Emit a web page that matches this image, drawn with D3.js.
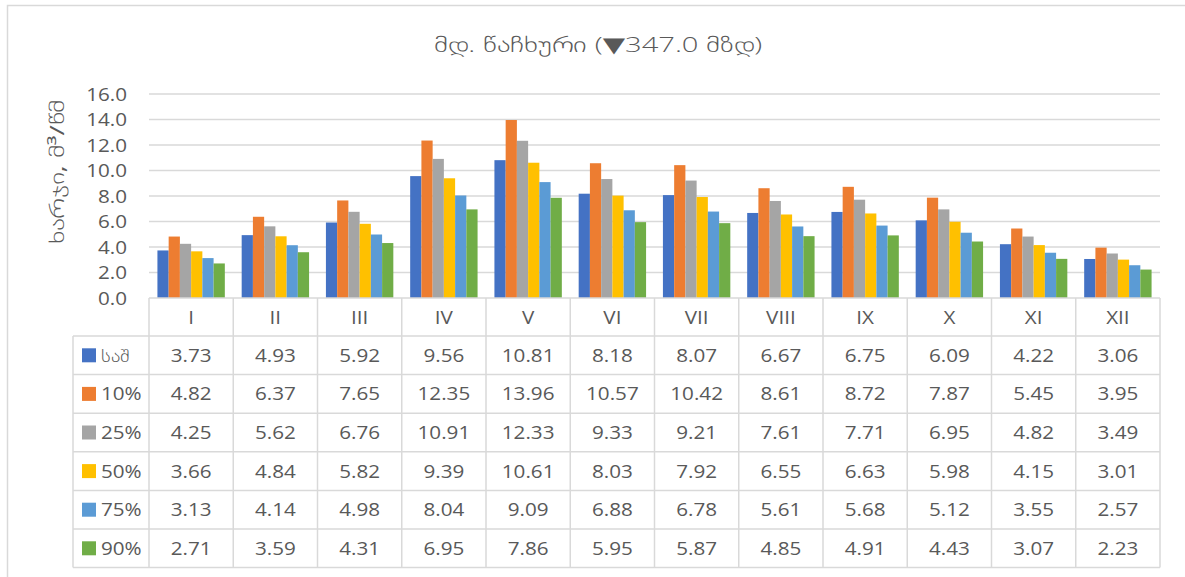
<!DOCTYPE html>
<html>
<head>
<meta charset="utf-8">
<script src="https://cdn.jsdelivr.net/npm/d3@7/dist/d3.min.js"></script>
<style>
  @font-face {
    font-family: "GeoLight";
    src: local("DejaVu Sans ExtraLight"), local("DejaVuSans-ExtraLight");
    unicode-range: U+10A0-10FF;
  }
  html, body { margin: 0; padding: 0; background: #fff; }
  svg { display: block; }
  text { font-family: "GeoLight", "Open Sans", "DejaVu Sans", sans-serif; fill: #595959; }
  text.title { font-weight: 300; }
  tspan.sym { font-family: "DejaVu Sans", sans-serif; font-weight: 400; }
</style>
</head>
<body>
<svg id="chart" width="1185" height="577"></svg>
<script>
// Monthly discharge by exceedance probability
const months = ["I", "II", "III", "IV", "V", "VI", "VII", "VIII", "IX", "X", "XI", "XII"];
const seriesNames = ["საშ", "10%", "25%", "50%", "75%", "90%"];
const seriesColors = ["#4472C4", "#ED7D31", "#A5A5A5", "#FFC000", "#5B9BD5", "#70AD47"];

const meanFlow = [3.73, 4.93, 5.92, 9.56, 10.81, 8.18, 8.07, 6.67, 6.75, 6.09, 4.22, 3.06];
const flow10 = [4.82, 6.37, 7.65, 12.35, 13.96, 10.57, 10.42, 8.61, 8.72, 7.87, 5.45, 3.95];
const flow25 = [4.25, 5.62, 6.76, 10.91, 12.33, 9.33, 9.21, 7.61, 7.71, 6.95, 4.82, 3.49];
const flow50 = [3.66, 4.84, 5.82, 9.39, 10.61, 8.03, 7.92, 6.55, 6.63, 5.98, 4.15, 3.01];
const flow75 = [3.13, 4.14, 4.98, 8.04, 9.09, 6.88, 6.78, 5.61, 5.68, 5.12, 3.55, 2.57];
const flow90 = [2.71, 3.59, 4.31, 6.95, 7.86, 5.95, 5.87, 4.85, 4.91, 4.43, 3.07, 2.23];

const yTicks = [0, 2, 4, 6, 8, 10, 12, 14, 16];
// title pieces: river name, gauge-datum symbol, elevation
const titleParts = [
  { t: "მდ. წაჩხური (", cls: null },
  { t: "▼", cls: "sym" },
  { t: "347.0 მზდ)", cls: null }
];
const yTitle = "ხარჯი, მ³/წმ";

const series = [meanFlow, flow10, flow25, flow50, flow75, flow90];

const svg = d3.select("#chart");
const gridColor = "#d9d9d9";
const textScale = 1.18;

// layout
const plot = { left: 149, right: 1160, top: 94, bottom: 298 };
const table = { legendLeft: 73, headerBottom: 336, rowH: 38.6 };

// outer chart frame (left and top edges visible)
svg.append("path")
  .attr("d", "M7.5,577 L7.5,5.5 L1185,5.5")
  .attr("fill", "none").attr("stroke", gridColor).attr("stroke-width", 1.5);

// scales
const x0 = d3.scaleBand().domain(months).range([plot.left, plot.right]).padding(0);
const groupPad = x0.bandwidth() * 0.1;
const x1 = d3.scaleBand().domain(d3.range(series.length))
  .range([groupPad, x0.bandwidth() - groupPad]).padding(0);
const y = d3.scaleLinear().domain([0, 16]).range([plot.bottom, plot.top]);

// gridlines
svg.append("g").selectAll("line").data(yTicks.slice(1)).join("line")
  .attr("x1", plot.left).attr("x2", plot.right)
  .attr("y1", d => y(d)).attr("y2", d => y(d))
  .attr("stroke", gridColor).attr("stroke-width", 1.3);

// y axis labels
const yAxis = svg.append("g")
  .attr("transform", `translate(${plot.left},0)`)
  .call(d3.axisLeft(y).tickValues(yTicks).tickFormat(d3.format(".1f")).tickSize(0).tickPadding(22));
yAxis.select(".domain").remove();
yAxis.selectAll("text")
  .style("font-family", '"Open Sans", sans-serif')
  .attr("font-size", 17.5).attr("fill", "#595959")
  .attr("dy", "0.36em")
  .attr("transform", function () {
    const xx = +d3.select(this).attr("x");
    return `translate(${xx * (1 - textScale)},0) scale(${textScale},1)`;
  });

// bars
const groups = svg.append("g").selectAll("g").data(months).join("g")
  .attr("transform", d => `translate(${x0(d)},0)`);
groups.selectAll("rect")
  .data((m, i) => series.map((s, k) => ({ k, v: s[i] })))
  .join("rect")
  .attr("x", d => x1(d.k))
  .attr("width", x1.bandwidth())
  .attr("y", d => y(d.v))
  .attr("height", d => y(0) - y(d.v))
  .attr("fill", d => seriesColors[d.k]);

// horizontal axis line
svg.append("line")
  .attr("x1", plot.left).attr("x2", plot.right)
  .attr("y1", plot.bottom).attr("y2", plot.bottom)
  .attr("stroke", gridColor).attr("stroke-width", 1.5);

// data table
const tableBottom = table.headerBottom + table.rowH * series.length;
const tg = svg.append("g");
const lineStyle = sel => sel.attr("stroke", gridColor).attr("stroke-width", 1.5);

// horizontal rules
tg.append("line").attr("x1", table.legendLeft).attr("x2", plot.right)
  .attr("y1", table.headerBottom).attr("y2", table.headerBottom).call(lineStyle);
series.forEach((s, k) => {
  const yy = table.headerBottom + table.rowH * (k + 1);
  tg.append("line").attr("x1", table.legendLeft).attr("x2", plot.right)
    .attr("y1", yy).attr("y2", yy).call(lineStyle);
});
// vertical rules
tg.append("line").attr("x1", table.legendLeft).attr("x2", table.legendLeft)
  .attr("y1", table.headerBottom).attr("y2", tableBottom).call(lineStyle);
months.forEach(m => {
  tg.append("line").attr("x1", x0(m)).attr("x2", x0(m))
    .attr("y1", plot.bottom).attr("y2", tableBottom).call(lineStyle);
});
tg.append("line").attr("x1", plot.right).attr("x2", plot.right)
  .attr("y1", plot.bottom).attr("y2", tableBottom).call(lineStyle);

function scaledText(g, txt, cx, cy, size, anchor) {
  return g.append("text")
    .attr("transform", `translate(${cx},${cy}) scale(${textScale},1)`)
    .attr("text-anchor", anchor || "middle")
    .attr("font-size", size)
    .text(txt);
}

// month header
months.forEach(m => {
  scaledText(tg, m, x0(m) + x0.bandwidth() / 2, (plot.bottom + table.headerBottom) / 2 + 6.5, 17.5);
});

// rows: legend key + values
series.forEach((s, k) => {
  const top = table.headerBottom + table.rowH * k;
  const cy = top + table.rowH / 2;
  tg.append("rect")
    .attr("x", 82).attr("y", cy - 7)
    .attr("width", 14).attr("height", 14)
    .attr("fill", seriesColors[k]);
  scaledText(tg, seriesNames[k], 101, cy + 6.5, 17.5, "start");
  s.forEach((v, i) => {
    scaledText(tg, v.toFixed(2), x0(months[i]) + x0.bandwidth() / 2, cy + 6.5, 17.5);
  });
});

// chart title, stretched horizontally to its box width
const title = svg.append("text")
  .attr("class", "title")
  .attr("text-anchor", "middle")
  .attr("font-size", 21);
title.selectAll("tspan").data(titleParts).join("tspan")
  .attr("class", d => d.cls)
  .text(d => d.t);
const titleW = title.node().getComputedTextLength();
title.attr("transform", `translate(598,52) scale(${330 / titleW},1)`);

// y axis title
const yt = svg.append("text")
  .attr("text-anchor", "middle")
  .attr("font-size", 20)
  .text(yTitle);
const ytW = yt.node().getComputedTextLength();
yt.attr("transform", `translate(64,172) rotate(-90) scale(${150 / ytW},1)`);
</script>
</body>
</html>
